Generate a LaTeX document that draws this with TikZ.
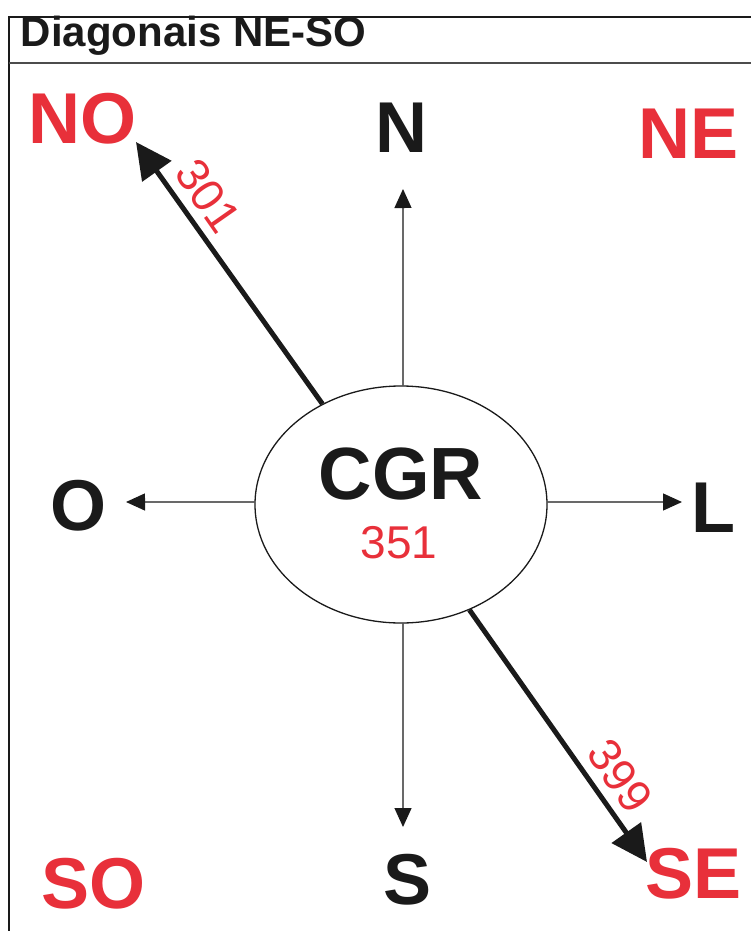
\documentclass[tikz,border=0pt]{standalone}
\usepackage{fontspec}
\setmainfont{Liberation Sans}
\usetikzlibrary{arrows.meta,shapes.geometric}
\definecolor{lred}{HTML}{E8303A}
\definecolor{ink}{HTML}{1A1A1A}
\begin{document}
\begin{tikzpicture}[x=1pt,y=-1pt,
  lab/.style={inner sep=0pt, anchor=base, font=\fontsize{72}{72}\selectfont\bfseries},
  redlab/.style={lab, text=lred},
  blacklab/.style={lab, text=ink},
  num/.style={inner sep=0pt, text=lred, font=\fontsize{46}{46}\selectfont},
  thinarrow/.style={draw=ink, line width=1.3pt, -{Triangle[length=19pt,width=17pt]}},
  thickarrow/.style={draw=ink, line width=5pt, -{Triangle[length=36pt,width=35pt]}},
  frameline/.style={draw=ink, line width=2pt},
  hubshape/.style={draw=ink, ellipse, minimum width=292pt, minimum height=237pt, inner sep=0pt, line width=1.3pt}]
\useasboundingbox (0,0) rectangle (751,931);
\fill[white] (0,0) rectangle (751,931);
% frame and header
\draw[frameline, line join=miter] (751,16.7) -| (8.7,931);
\draw[line width=2pt, draw=black!70] (8.7,63) -- (751,63);
\node[inner sep=0pt, anchor=base west, text=ink, font=\fontsize{42}{42}\selectfont\bfseries] (title) at (20.5,47) {Diagonais NE-SO};
% central ellipse
\node[hubshape] (cgr) at (401,504.5) {};
\node[blacklab, font=\fontsize{74}{74}\selectfont\bfseries] (cgrtext) at (401,499) {CGR};
\node[inner sep=0pt, anchor=base, text=lred, font=\fontsize{46}{46}\selectfont] (n351) at (399,558) {351};
% direction labels
\node[redlab] (no) at (82.5,143) {NO};
\node[blacklab] (n) at (401,152) {N};
\node[redlab] (ne) at (688.5,158) {NE};
\node[blacklab] (o) at (78.5,530) {O};
\node[blacklab] (l) at (713.5,532) {L};
\node[redlab] (so) at (93.5,908) {SO};
\node[blacklab] (s) at (408,904) {S};
\node[redlab] (se) at (693.5,898) {SE};
% arrow tips
\coordinate (ntip) at (403,189);
\coordinate (stip) at (403,827);
\coordinate (otip) at (126,502);
\coordinate (ltip) at (682,502);
\coordinate (notip) at (136,142);
\coordinate (setip) at (647,862);
% connectors
\draw[thinarrow] (cgr.89) -- (ntip);
\draw[thinarrow] (cgr.-89) -- (stip);
\draw[thinarrow] (cgr.179) -- (otip);
\draw[thinarrow] (cgr.1) -- (ltip);
\draw[thickarrow] (cgr.128) -- (notip);
\draw[thickarrow] (cgr.-57) -- (setip);
% numbers
\node[num, rotate=-55] (n301) at (208,196) {301};
\node[num, rotate=-55] (n399) at (620,776) {399};
\end{tikzpicture}
\end{document}
